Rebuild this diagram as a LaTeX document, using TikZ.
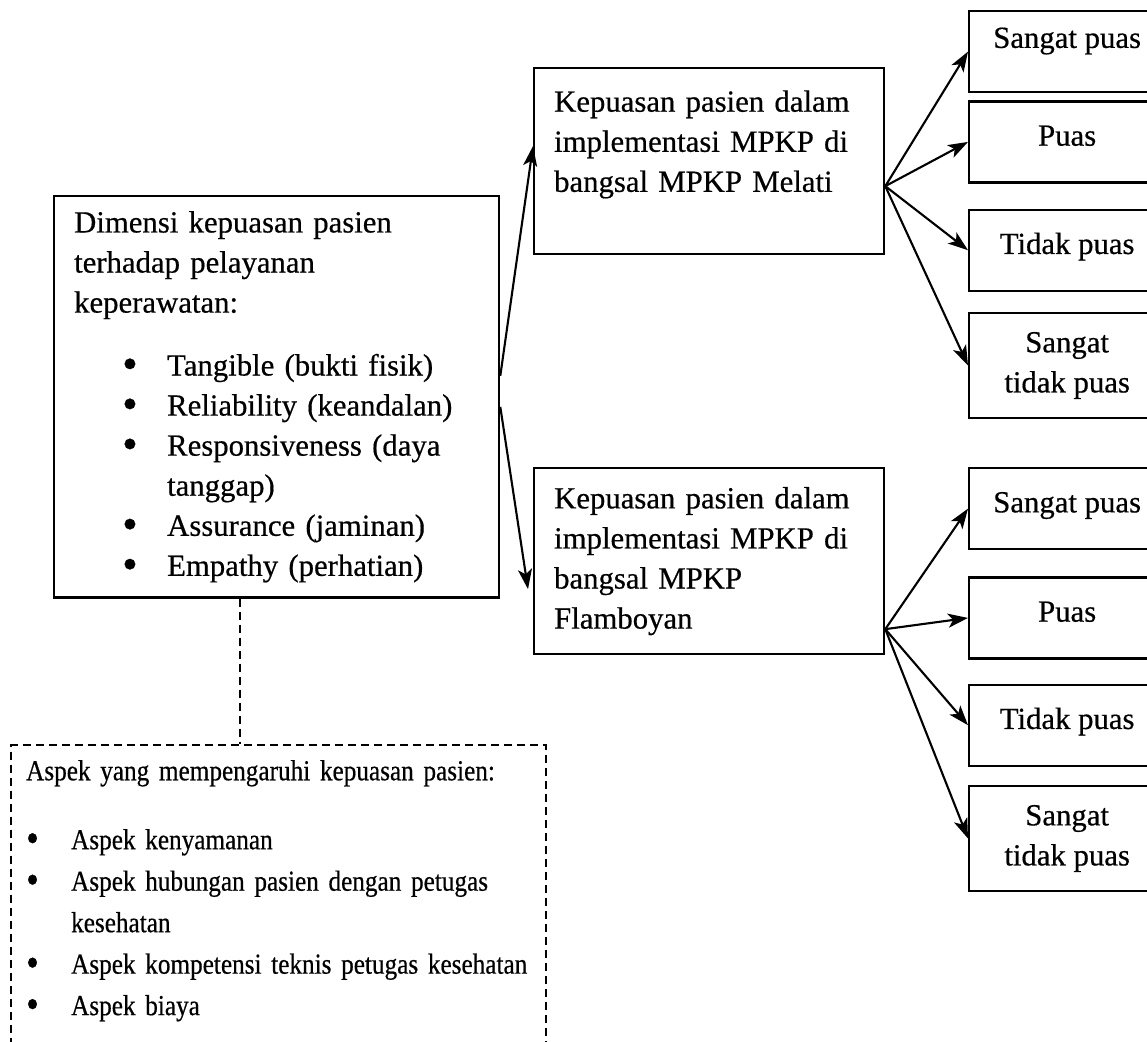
\documentclass[tikz,border=0pt]{standalone}
\usepackage{fontspec}
\setmainfont{Liberation Serif}[FakeBold=0.5]
\newfontfamily\aspfont{Liberation Serif}[FakeBold=0.5,FakeStretch=0.87]
\usetikzlibrary{arrows.meta,positioning}

\newcommand{\blt}[2][0.96cm]{\hspace*{#1}\makebox[0.9cm][l]{\raisebox{-0.1em}{\scalebox{1.45}{\textbullet}}}#2}

\begin{document}
\begin{tikzpicture}[
  box/.style={
    draw=black,
    line width=1.3pt,
    align=left,
    inner xsep=0.4cm,
    inner ysep=0.3cm,
    font=\fontsize{17.5}{22.8}\selectfont
  },
  dim box/.style={box, anchor=north west, text width=8.1cm, minimum height=8cm},
  ward box/.style={box, anchor=north west, text width=6.2cm, minimum height=3.72cm},
  aspect box/.style={box, anchor=north west, text width=10.1cm, inner xsep=0.3cm,
    font=\aspfont\fontsize{16.5}{23.6}\selectfont, dash pattern=on 0.16cm off 0.1cm},
  grade/.style={
    draw=black,
    line width=1.3pt,
    align=center,
    minimum width=3.92cm,
    minimum height=1.62cm,
    inner ysep=0.1cm,
    text height=0.45cm,
    text depth=0.3cm,
    font=\fontsize{17.5}{22.8}\selectfont
  },
  grade2/.style={grade, text height=, text depth=, minimum height=2.1cm},
  flow/.style={-{Stealth[length=4mm,width=2.8mm,inset=1mm]}, line width=1.2pt},
  link/.style={line width=1.3pt, dash pattern=on 0.16cm off 0.1cm}
]

\path[use as bounding box, fill=white] (0,0) rectangle (22.94,-20.84);

\node[dim box] (dimensi) at (1.06,-3.90) {
  Dimensi kepuasan pasien\\
  terhadap pelayanan\\
  keperawatan:\\[13pt]
  \blt{Tangible (bukti fisik)}\\
  \blt{Reliability (keandalan)}\\
  \blt{Responsiveness (daya}\\
  \hspace*{1.86cm}tanggap)\\
  \blt{Assurance (jaminan)}\\
  \blt{Empathy (perhatian)}
};

\node[ward box] (melati) at (10.66,-1.34) {
  Kepuasan pasien dalam\\
  implementasi MPKP di\\
  bangsal MPKP Melati\\
  \mbox{}
};

\node[ward box] (flamboyan) at (10.66,-9.34) {
  Kepuasan pasien dalam\\
  implementasi MPKP di\\
  bangsal MPKP\\
  Flamboyan
};

\node[aspect box] (aspek) at (0.2,-14.88) {
  Aspek yang mempengaruhi kepuasan pasien:\\[0.55cm]
  \blt[0cm]{Aspek kenyamanan}\\
  \blt[0cm]{Aspek hubungan pasien dengan petugas}\\
  \hspace*{0.9cm}kesehatan\\
  \mbox{\blt[0cm]{Aspek kompetensi teknis petugas kesehatan}}\\
  \blt[0cm]{Aspek biaya}\\[0.8cm]
  \mbox{}
};

% pilihan untuk bangsal Melati
\node[grade, anchor=north west, text depth=0.6cm] (m1) at (19.36,-0.20) {Sangat puas};
\node[grade, below=0.14cm of m1] (m2) {Puas};
\node[grade, below=0.50cm of m2] (m3) {Tidak puas};
\node[grade2, below=0.40cm of m3] (m4) {Sangat\\tidak puas};

% pilihan untuk bangsal Flamboyan
\node[grade, anchor=north west] (f1) at (19.36,-9.34) {Sangat puas};
\node[grade, below=0.52cm of f1] (f2) {Puas};
\node[grade, below=0.48cm of f2] (f3) {Tidak puas};
\node[grade2, below=0.36cm of f3] (f4) {Sangat\\tidak puas};

\draw[flow] ([yshift=0.42cm]dimensi.east) -- ([yshift=0.3cm]melati.west);
\draw[flow] ([yshift=-0.2cm]dimensi.east) -- ([xshift=-0.1cm,yshift=-0.56cm]flamboyan.west);

\foreach \g in {m1,m2,m3,m4}
  \draw[flow] ([yshift=-0.5cm]melati.east) -- (\g.west);
\foreach \g in {f1,f2,f3,f4}
  \draw[flow] ([yshift=-1.36cm]flamboyan.east) -- (\g.west);

\coordinate (tap) at ([xshift=-0.73cm]dimensi.south);
\draw[link] (tap) -- (tap |- aspek.north);

\end{tikzpicture}
\end{document}
